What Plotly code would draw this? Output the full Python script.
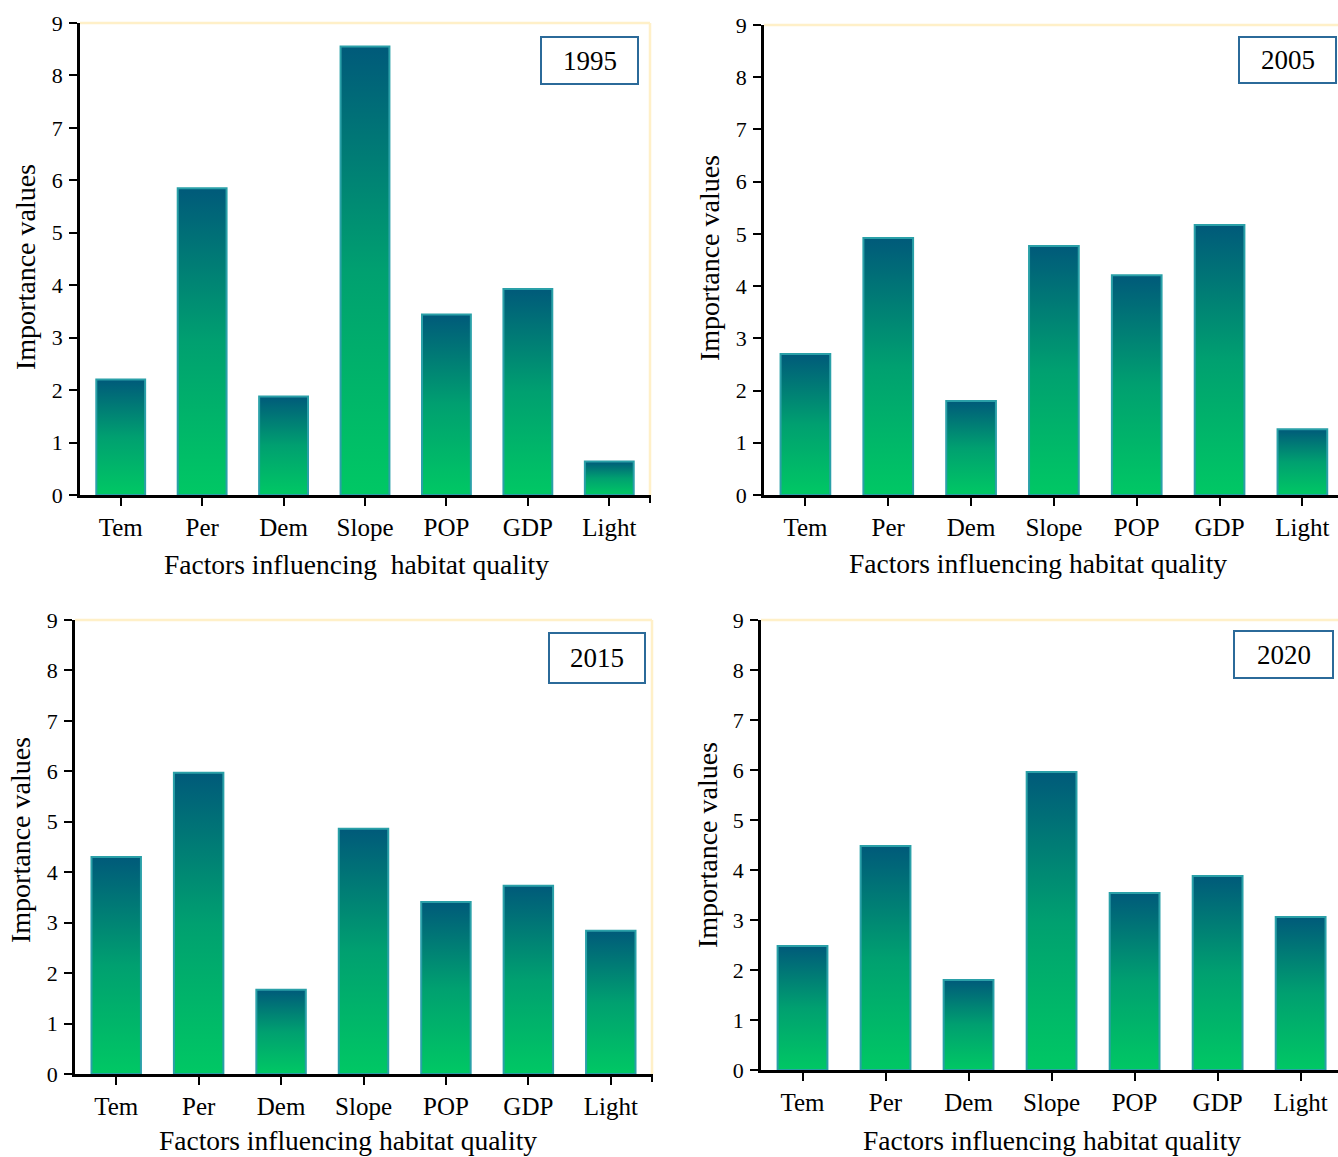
import plotly.graph_objects as go

categories = ["Tem", "Per", "Dem", "Slope", "POP", "GDP", "Light"]
years = ["1995", "2005", "2015", "2020"]
values_1995 = [2.2, 5.85, 1.88, 8.55, 3.44, 3.93, 0.64]
values_2005 = [2.7, 4.92, 1.80, 4.77, 4.21, 5.17, 1.26]
values_2015 = [4.30, 5.97, 1.67, 4.86, 3.41, 3.73, 2.84]
values_2020 = [2.48, 4.48, 1.80, 5.96, 3.54, 3.88, 3.06]
y_ticks = [0, 1, 2, 3, 4, 5, 6, 7, 8, 9]
x_titles = ["Factors influencing  habitat quality", "Factors influencing habitat quality",
            "Factors influencing habitat quality", "Factors influencing habitat quality"]
y_title = "Importance values"

all_values = [values_1995, values_2005, values_2015, values_2020]

W, H = 1338, 1157
FONT = "Liberation Serif, Times New Roman, serif"
GREEN_SCALE = [[0, "#00C864"], [0.5, "#00A070"], [1, "#005A7A"]]
OUTLINE = "#2AA0A8"
BOX = "#2B6A99"
BEIGE = "#FFF0C8"

# layout (pixel geometry) per panel: x0, x1, y_zero, y_nine, x_range_end
panels = [
    dict(x0=80, x1=650, y0=495, y9=23, xend=6.5, right=True,
         ytitle=(25, 267), xtitle=(356, 564), box=(541, 37, 638, 84)),
    dict(x0=764, x1=1338, y0=495, y9=25, xend=6.43, right=False,
         ytitle=(710, 258), xtitle=(1038, 563), box=(1239, 37, 1336, 83)),
    dict(x0=75, x1=652, y0=1074, y9=620, xend=6.5, right=True,
         ytitle=(20, 840), xtitle=(348, 1140), box=(549, 633, 645, 683)),
    dict(x0=761, x1=1338, y0=1070, y9=620, xend=6.45, right=False,
         ytitle=(707, 845), xtitle=(1052, 1140), box=(1234, 631, 1333, 678)),
]

fig = go.Figure()
shapes = []
annotations = []
bar_w = 0.6

for k, (p, vals, yr) in enumerate(zip(panels, all_values, years)):
    sfx = "" if k == 0 else str(k + 1)
    xa, ya = "x" + sfx, "y" + sfx
    for i, v in enumerate(vals):
        fig.add_trace(go.Scatter(
            x=[i - bar_w / 2, i - bar_w / 2, i + bar_w / 2, i + bar_w / 2, i - bar_w / 2],
            y=[0, v, v, 0, 0], mode="lines", fill="toself",
            fillgradient=dict(type="vertical", colorscale=GREEN_SCALE, start=0, stop=v),
            line=dict(color=OUTLINE, width=2), hoverinfo="skip", showlegend=False,
            xaxis=xa, yaxis=ya))
    fig.add_trace(go.Bar(x=list(range(len(categories))), y=vals, width=bar_w,
                         marker=dict(color="rgba(0,0,0,0)", line=dict(width=0)),
                         hovertext=categories, showlegend=False, xaxis=xa, yaxis=ya))

    xkey = "xaxis" + sfx
    ykey = "yaxis" + sfx
    fig.layout[xkey] = dict(
        domain=[p["x0"] / W, p["x1"] / W], range=[-0.5, p["xend"]], anchor=ya,
        automargin=False,
        tickmode="array", tickvals=list(range(len(categories))), ticktext=categories,
        showline=True, linecolor="black", linewidth=2.5, ticks="outside", ticklen=8,
        tickwidth=2, tickcolor="black", showgrid=False, zeroline=False,
        tickfont=dict(family=FONT, size=25, color="black"), ticklabelstandoff=0)
    fig.layout[ykey] = dict(
        domain=[1 - p["y0"] / H, 1 - p["y9"] / H], range=[0, 9], anchor=xa,
        automargin=False,
        tickmode="array", tickvals=y_ticks, showline=True, linecolor="black",
        linewidth=2.5, ticks="outside", ticklen=8, tickwidth=2, tickcolor="black",
        showgrid=False, zeroline=False,
        tickfont=dict(family=FONT, size=22, color="black"), ticklabelstandoff=2)

    shapes.append(dict(type="line", xref=xa + " domain", yref=ya + " domain",
                       x0=0, x1=1, y0=1, y1=1, line=dict(color=BEIGE, width=2.5), layer="below"))
    if p["right"]:
        shapes.append(dict(type="line", xref=xa + " domain", yref=ya + " domain",
                           x0=1, x1=1, y0=0, y1=1, line=dict(color=BEIGE, width=2.5), layer="below"))
        shapes.append(dict(type="line", xref=xa + " domain", yref="paper",
                           x0=1, x1=1, y0=1 - p["y0"] / H, y1=1 - (p["y0"] + 8) / H,
                           line=dict(color="black", width=2)))

    bx0, by0, bx1, by1 = p["box"]
    shapes.append(dict(type="rect", xref="paper", yref="paper",
                       x0=bx0 / W, x1=bx1 / W, y0=1 - by1 / H, y1=1 - by0 / H,
                       line=dict(color=BOX, width=2), fillcolor="white"))
    annotations.append(dict(text=yr, xref="paper", yref="paper",
                            x=(bx0 + bx1) / 2 / W, y=1 - (by0 + by1) / 2 / H,
                            xanchor="center", yanchor="middle", showarrow=False,
                            font=dict(family=FONT, size=27, color="black")))
    tx, ty = p["ytitle"]
    annotations.append(dict(text=y_title, xref="paper", yref="paper", x=tx / W, y=1 - ty / H,
                            xanchor="center", yanchor="middle", textangle=-90, showarrow=False,
                            font=dict(family=FONT, size=28, color="black")))
    tx, ty = p["xtitle"]
    annotations.append(dict(text=x_titles[k], xref="paper", yref="paper", x=tx / W, y=1 - ty / H,
                            xanchor="center", yanchor="middle", showarrow=False,
                            font=dict(family=FONT, size=27.5, color="black")))

fig.update_layout(width=W, height=H, margin=dict(l=0, r=0, t=0, b=0, autoexpand=False),
                  paper_bgcolor="white", plot_bgcolor="white", shapes=shapes,
                  annotations=annotations, showlegend=False, barmode="overlay")

post = (
    "document.documentElement.style.margin='0';"
    "document.documentElement.style.overflow='hidden';"
    "document.body.style.margin='0';document.body.style.overflow='hidden';"
    "var g=document.getElementById('{plot_id}');"
    "g.style.position='fixed';g.style.top='0px';g.style.left='0px';"
)
fig.write_html("out.html", config={"displayModeBar": False}, post_script=post)
